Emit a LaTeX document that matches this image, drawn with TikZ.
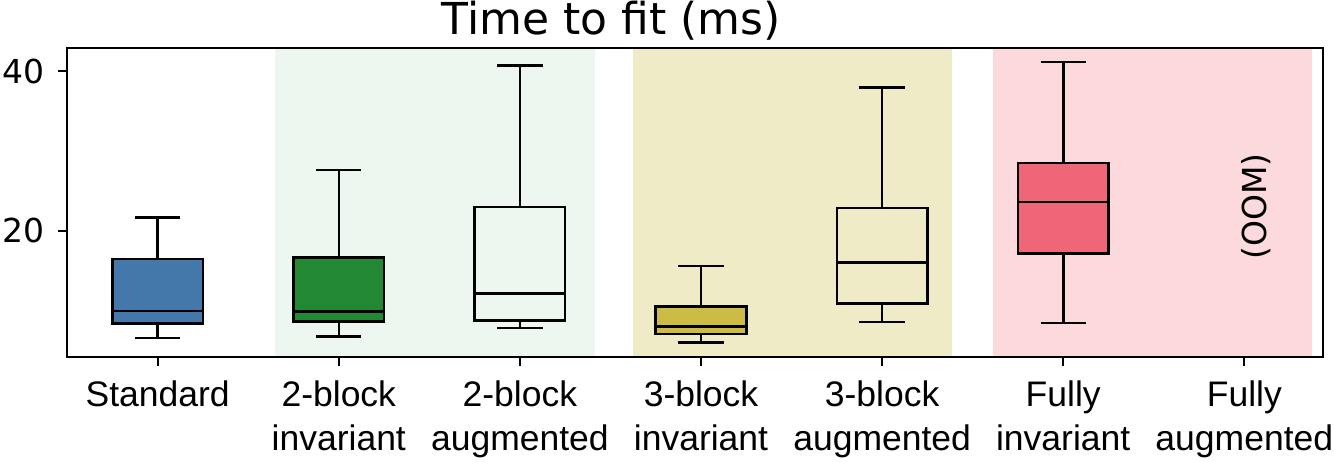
\documentclass[tikz,border=0pt]{standalone}
\usepackage{fontspec}
\setmainfont{DejaVu Sans}
\newfontfamily\labfont{Liberation Sans}
\definecolor{tolblue}{HTML}{4477AA}
\definecolor{tolgreen}{HTML}{228833}
\definecolor{tolyellow}{HTML}{CCBB44}
\definecolor{tolred}{HTML}{EE6677}
\tikzset{
  boxline/.style={line width=2.6pt},
  frameline/.style={line width=2.4pt},
  tickline/.style={line width=2pt},
  xlab/.style={font=\labfont\fontsize{35.5}{44}\selectfont, align=center, anchor=north, inner sep=0pt},
  ylab/.style={font=\fontsize{33}{40}\selectfont, anchor=east, inner sep=0pt}
}
\begin{document}
\begin{tikzpicture}[x=1pt,y=1pt]
\useasboundingbox (0,0) rectangle (1334,462);
\begin{scope}[shift={(157.7pt,71.6pt)}, x=181.1pt, y=7.98pt]
% Shaded groups behind the boxes
\fill[tolgreen!8] (0.648,4.17) rectangle (2.416,42.93);
\fill[tolyellow!30] (2.625,4.17) rectangle (4.386,42.93);
\fill[tolred!25] (4.612,4.17) rectangle (6.373,42.93);

% Boxes: position/low/q1/median/q3/high/fill
\foreach \i/\lo/\qa/\md/\qb/\hi/\col in {0/6.55/8.35/9.94/16.49/21.63/tolblue,
  1/6.77/8.65/9.85/16.67/27.6/tolgreen, 2/7.84/8.77/12.15/22.97/40.73/none,
  3/5.97/7.09/8.02/10.48/15.61/tolyellow, 4/8.56/10.9/15.99/22.88/37.97/none,
  5/8.43/17.12/23.6/28.52/41.14/tolred} {
  \draw[boxline] (\i,\lo) -- (\i,\qa) (\i,\qb) -- (\i,\hi);
  \draw[boxline] (\i-0.125,\lo) -- (\i+0.125,\lo) (\i-0.125,\hi) -- (\i+0.125,\hi);
  \filldraw[boxline, fill=\col] (\i-0.25,\qa) rectangle (\i+0.25,\qb);
  \draw[boxline] (\i-0.25,\md) -- (\i+0.25,\md);
}
\node[rotate=90, font=\fontsize{33}{40}\selectfont, inner sep=0pt] (oom) at (6.068,23.05) {(OOM)};

% Frame and ticks
\draw[frameline] (-0.501,4.17) rectangle (6.435,42.93);
\foreach \v in {20,40} {
  \draw[tickline] (-0.501,\v) -- ++(-9pt,0);
  \node[ylab] (ytick\v) at (-0.622,\v) {\v};
}
\foreach \i/\txt in {0/Standard, 1/{2-block\\invariant}, 2/{2-block\\augmented},
  3/{3-block\\invariant}, 4/{3-block\\augmented}, 5/{Fully\\invariant}, 6/{Fully\\augmented}} {
  \draw[tickline] (\i,4.17) -- ++(0,-9pt);
  \node[xlab] (xlab\i) at (\i,1.18) {\txt};
}
\node[font=\fontsize{44}{53}\selectfont, anchor=base, inner sep=0pt] (title) at (2.503,44.54) {Time to fit (ms)};
\end{scope}
\end{tikzpicture}
\end{document}
